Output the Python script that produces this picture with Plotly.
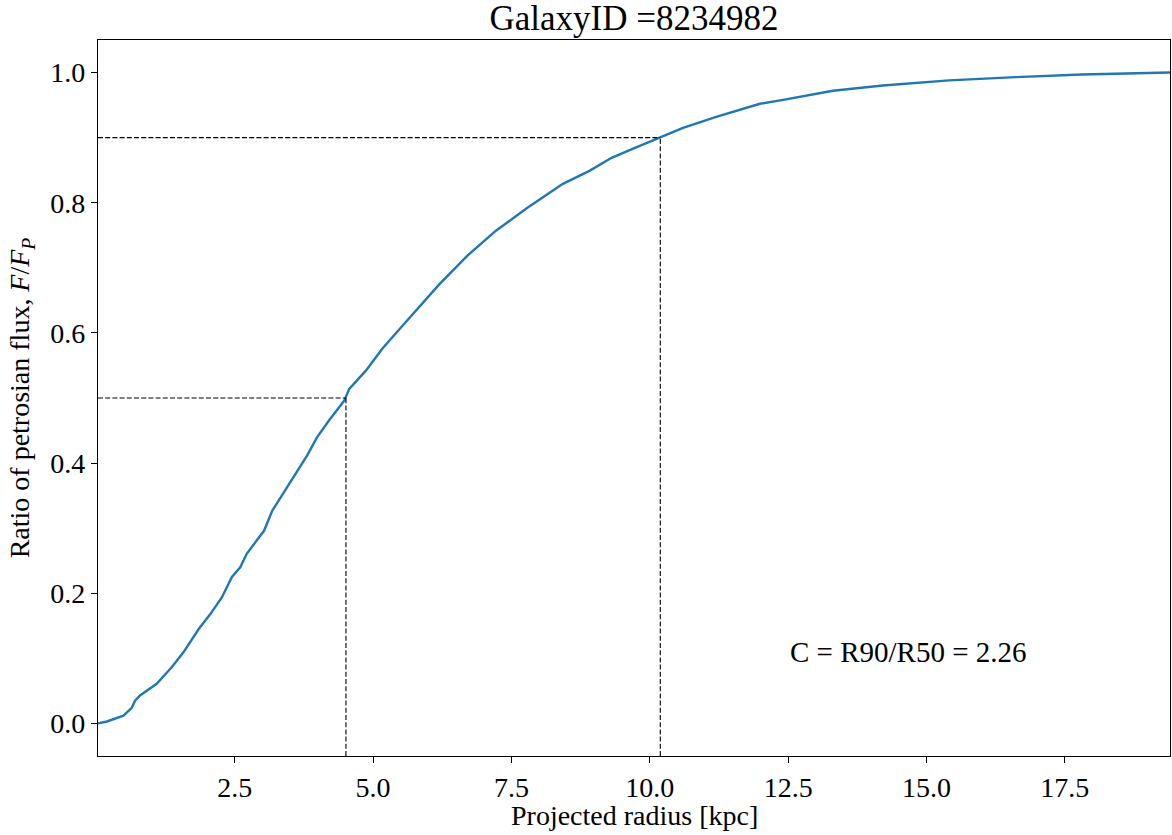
import plotly.graph_objects as go

# Cumulative flux profile of the galaxy
radius_kpc = [0.03, 0.19, 0.49, 0.64, 0.70, 0.79, 1.09, 1.37, 1.58, 1.85, 2.06, 2.27,
              2.45, 2.60, 2.72, 2.94, 3.03, 3.18, 3.48, 3.81, 3.99, 4.20, 4.48, 4.57,
              4.87, 5.17, 5.50, 6.02, 6.20, 6.71, 7.22, 7.77, 8.43, 8.91, 9.31, 9.70,
              10.18, 10.60, 11.20, 11.99, 12.41, 13.31, 14.21, 15.41, 16.61, 17.81, 19.40]
flux_ratio = [0.000, 0.003, 0.012, 0.024, 0.035, 0.043, 0.061, 0.087, 0.110, 0.145, 0.168, 0.194,
              0.225, 0.240, 0.261, 0.286, 0.296, 0.327, 0.368, 0.412, 0.440, 0.465, 0.496, 0.514,
              0.542, 0.576, 0.608, 0.657, 0.675, 0.719, 0.757, 0.791, 0.829, 0.849, 0.869, 0.883,
              0.900, 0.915, 0.932, 0.952, 0.958, 0.972, 0.980, 0.988, 0.993, 0.997, 1.000]

galaxy_id = 8234982
r50 = 4.51
r90 = 10.19
concentration = r90 / r50

x_range = [radius_kpc[0], radius_kpc[-1]]
y_range = [-0.05, 1.05]

x_ticks = [2.5, 5.0, 7.5, 10.0, 12.5, 15.0, 17.5]
y_ticks = [0.0, 0.2, 0.4, 0.6, 0.8, 1.0]

FONT = "Liberation Serif, DejaVu Serif, serif"

fig = go.Figure()

fig.add_trace(go.Scatter(
    x=radius_kpc, y=flux_ratio, mode="lines",
    line=dict(color="#1f77b4", width=2.4),
    showlegend=False, hoverinfo="x+y",
))

dash = dict(color="black", width=1.1, dash="5px,2.2px")
for r, f in [(r50, 0.5), (r90, 0.9)]:
    fig.add_shape(type="line", xref="x", yref="y", x0=x_range[0], x1=r, y0=f, y1=f, line=dash)
    fig.add_shape(type="line", xref="x", yref="y", x0=r, x1=r, y0=y_range[0], y1=f, line=dash)

fig.add_annotation(
    x=12.5, y=0.11, xref="x", yref="y", xanchor="left", yanchor="middle",
    text=f"C = R90/R50 = {concentration:.2f}", showarrow=False,
    font=dict(family=FONT, size=29, color="black"),
)

# x-axis label placed just below the tick labels
fig.add_annotation(
    x=0.5, y=-0.083, xref="paper", yref="paper", xanchor="center", yanchor="middle",
    text="Projected radius [kpc]", showarrow=False,
    font=dict(family=FONT, size=28, color="black"),
)

axis_common = dict(
    showline=True, mirror=True, linecolor="black", linewidth=1.1,
    ticks="outside", ticklen=6, tickwidth=1.1, tickcolor="black",
    showgrid=False, zeroline=False,
    tickfont=dict(family=FONT, size=28, color="black"),
)

fig.update_layout(
    width=1172, height=835,
    margin=dict(l=98, r=2, t=40, b=79),
    paper_bgcolor="white", plot_bgcolor="white",
    font=dict(family=FONT, size=28, color="black"),
    title=dict(
        text=f"GalaxyID ={galaxy_id}", x=0.5, xref="paper",
        y=1 - 18 / 835, yref="container", yanchor="middle", xanchor="center",
        font=dict(family=FONT, size=35, color="black"),
    ),
    xaxis=dict(
        range=x_range, tickvals=x_ticks, ticktext=[f"{v:.1f}" for v in x_ticks],
        **axis_common,
    ),
    yaxis=dict(
        range=y_range, tickvals=y_ticks, ticktext=[f"{v:.1f}" for v in y_ticks],
        title=dict(text="Ratio of petrosian flux, <i>F</i>/<i>F</i><sub><i>P</i></sub>", standoff=12,
                   font=dict(family=FONT, size=28, color="black")),
        **axis_common,
    ),
)

fig.write_html("out.html")
